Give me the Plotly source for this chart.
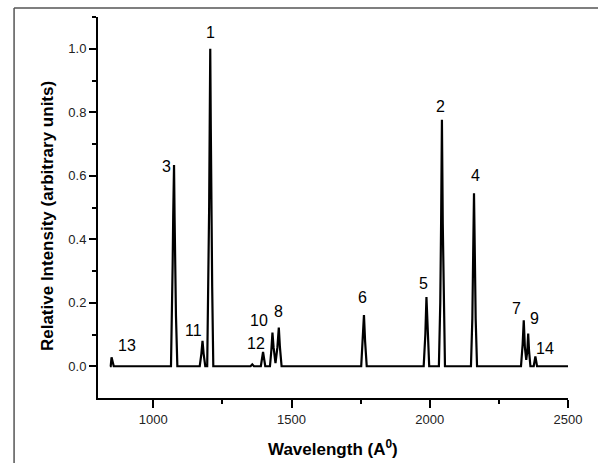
import plotly.graph_objects as go

# Spectrum trace (wavelength in Angstrom, relative intensity)
wavelength = [843, 846, 849, 857,
              1064, 1068, 1070, 1072, 1075, 1077, 1079, 1082, 1087,
              1168, 1174, 1178, 1182, 1188,
              1195, 1199, 1202, 1204, 1206, 1208, 1210, 1213, 1217,
              1352, 1358, 1364,
              1389, 1397, 1405,
              1422, 1427, 1431, 1435, 1442, 1449, 1454, 1458, 1464,
              1752, 1758, 1762, 1766, 1772,
              1978, 1984, 1988, 1992, 1998,
              2033, 2038, 2041, 2044, 2047, 2050, 2055,
              2149, 2154, 2157, 2160, 2163, 2166, 2171,
              2330, 2336, 2340, 2344, 2349, 2353, 2356, 2359, 2364,
              2376, 2382, 2388,
              2500]
intensity = [0.0, 0.0, 0.028, 0.0,
             0.0, 0.16, 0.32, 0.47, 0.634, 0.47, 0.32, 0.16, 0.0,
             0.0, 0.04, 0.08, 0.04, 0.0,
             0.0, 0.25, 0.5, 0.75, 1.0, 0.75, 0.5, 0.25, 0.0,
             0.0, 0.006, 0.0,
             0.0, 0.045, 0.0,
             0.0, 0.05, 0.106, 0.06, 0.01, 0.06, 0.122, 0.06, 0.0,
             0.0, 0.08, 0.161, 0.08, 0.0,
             0.0, 0.1, 0.218, 0.1, 0.0,
             0.0, 0.2, 0.45, 0.776, 0.45, 0.2, 0.0,
             0.0, 0.15, 0.35, 0.545, 0.35, 0.15, 0.0,
             0.0, 0.07, 0.145, 0.06, 0.02, 0.05, 0.103, 0.05, 0.0,
             0.0, 0.031, 0.0,
             0.0]

# Peak labels
label_text = ["1", "2", "3", "4", "5", "6", "7", "8", "9", "10", "11", "12", "13", "14"]
label_x = [1208, 2040, 1046, 2166, 1978, 1755, 2314, 1454, 2380, 1384, 1147, 1371, 905, 2418]
label_y = [1.05, 0.817, 0.63, 0.60, 0.262, 0.215, 0.183, 0.173, 0.151, 0.145, 0.114, 0.073, 0.066, 0.056]

x_ticks = [1000, 1500, 2000, 2500]
y_ticks = [0.0, 0.2, 0.4, 0.6, 0.8, 1.0]

FONT = "Liberation Sans, Arial, sans-serif"

fig = go.Figure()
fig.add_trace(go.Scatter(x=wavelength, y=intensity, mode="lines",
                         line=dict(color="black", width=2.2), showlegend=False))

for t, x, y in zip(label_text, label_x, label_y):
    fig.add_annotation(x=x, y=y, text=t, showarrow=False,
                       font=dict(family=FONT, size=16, color="black"))

# axis titles
fig.add_annotation(xref="paper", yref="paper", x=(333 - 98) / 470.4, y=(398 - 448) / 381,
                   xanchor="center", yanchor="middle",
                   text="<b>Wavelength (A<sup>0</sup>)</b>", showarrow=False,
                   font=dict(family=FONT, size=17, color="black"))
fig.add_annotation(xref="paper", yref="paper", x=(47 - 98) / 470.4, y=(398 - 216) / 381,
                   xanchor="center", yanchor="middle",
                   text="<b>Relative Intensity (arbitrary units)</b>", showarrow=False, textangle=-90,
                   font=dict(family=FONT, size=17, color="black"))

# outer frame (top and left edges)
fx = (14 - 98) / 470.4
fy = (398 - 8) / 381
fig.add_shape(type="line", xref="paper", yref="paper", x0=fx, y0=fy, x1=1.2, y1=fy,
              line=dict(color="#555555", width=1.5))
fig.add_shape(type="line", xref="paper", yref="paper", x0=fx, y0=fy, x1=fx, y1=-0.3,
              line=dict(color="#555555", width=1.5))

fig.update_xaxes(range=[800, 2500], tickvals=x_ticks, ticks="outside", ticklen=8, tickwidth=1.5,
                 tickcolor="black", showline=True, linecolor="black", linewidth=2,
                 showgrid=False, zeroline=False,
                 tickfont=dict(family=FONT, size=13, color="#222222"),
                 minor=dict(tickvals=[1250, 1750, 2250], ticks="outside", ticklen=4,
                            tickwidth=1.5, tickcolor="black"))
fig.update_yaxes(range=[-0.1, 1.1], tickvals=y_ticks, ticktext=["0.0", "0.2", "0.4", "0.6", "0.8", "1.0"],
                 ticks="outside", ticklen=7, tickwidth=1.5,
                 tickcolor="black", showline=True, linecolor="black", linewidth=2,
                 showgrid=False, zeroline=False,
                 tickfont=dict(family=FONT, size=13, color="#222222"),
                 minor=dict(tickvals=[0.1, 0.3, 0.5, 0.7, 0.9, 1.1], ticks="outside", ticklen=4,
                            tickwidth=1.5, tickcolor="black"))

fig.update_layout(width=598, height=463, margin=dict(l=98, r=30, t=17, b=65),
                  plot_bgcolor="white", paper_bgcolor="white", showlegend=False)

fig.write_html("out.html", config={"displayModeBar": False},
               post_script="document.body.style.margin='0';")
